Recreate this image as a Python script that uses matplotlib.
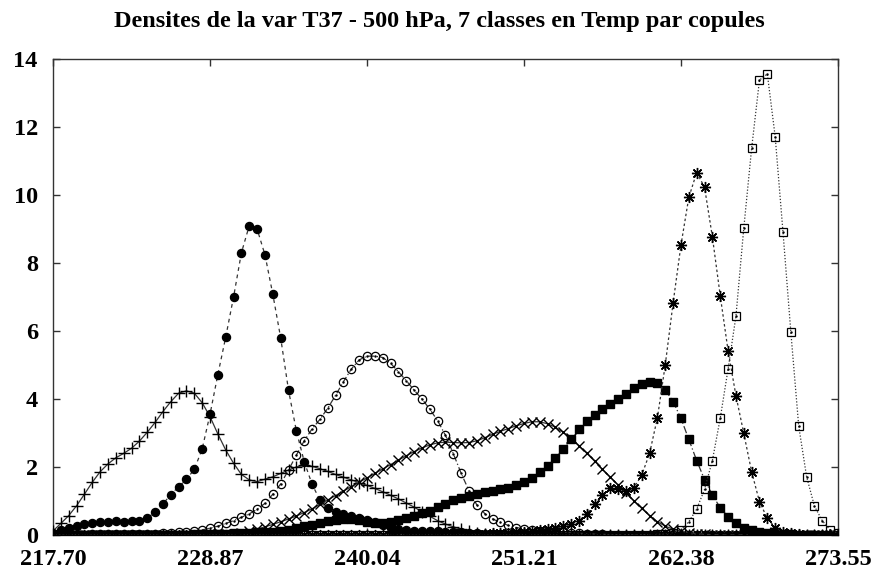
import numpy as np
import matplotlib
matplotlib.use("Agg")
import matplotlib.pyplot as plt

# temperature grid (101 points, tick every 20 points)
t_min, t_max = 217.70, 273.55
n_points = 101
tick_labels = ["217.70", "228.87", "240.04", "251.21", "262.38", "273.55"]

title = "Densites de la var T37 - 500 hPa, 7 classes en Temp par copules"

class1 = [0.12, 0.34, 0.57, 0.86, 1.20, 1.55, 1.86, 2.09, 2.27, 2.40,
          2.55, 2.76, 3.02, 3.31, 3.63, 3.92, 4.17, 4.24, 4.17, 3.89,
          3.48, 2.97, 2.50, 2.11, 1.78, 1.62, 1.57, 1.64, 1.71, 1.81,
          1.91, 2.00, 2.05, 2.02, 1.95, 1.87, 1.78, 1.70, 1.62, 1.54,
          1.46, 1.37, 1.27, 1.17, 1.06, 0.94, 0.82, 0.68, 0.55, 0.42,
          0.32, 0.24, 0.17, 0.11, 0.07, 0.04, 0.02, 0.01, 0, 0,
          0, 0, 0, 0, 0, 0, 0, 0, 0, 0,
          0, 0, 0, 0, 0, 0, 0, 0, 0, 0,
          0, 0, 0, 0, 0, 0, 0, 0, 0, 0,
          0, 0, 0, 0, 0, 0, 0, 0, 0, 0,
          0]

class2 = [0.07, 0.15, 0.22, 0.27, 0.31, 0.35, 0.37, 0.39, 0.40, 0.39,
          0.40, 0.42, 0.50, 0.67, 0.91, 1.19, 1.42, 1.64, 1.93, 2.53,
          3.55, 4.72, 5.82, 7.00, 8.30, 9.10, 9.00, 8.24, 7.08, 5.80,
          4.26, 3.06, 2.16, 1.49, 1.03, 0.80, 0.67, 0.62, 0.57, 0.50,
          0.45, 0.39, 0.29, 0.21, 0.18, 0.15, 0.13, 0.12, 0.12, 0.11,
          0.10, 0.09, 0.08, 0.07, 0.05, 0.04, 0.03, 0.02, 0.01, 0,
          0, 0, 0, 0, 0, 0, 0, 0, 0, 0,
          0, 0, 0, 0, 0, 0, 0, 0, 0, 0,
          0, 0, 0, 0, 0, 0, 0, 0, 0, 0,
          0, 0, 0, 0, 0, 0, 0, 0, 0, 0,
          0]

class3 = [0.01, 0.01, 0.01, 0.01, 0.01, 0.02, 0.02, 0.02, 0.02, 0.03,
          0.03, 0.03, 0.03, 0.04, 0.05, 0.06, 0.08, 0.10, 0.12, 0.15,
          0.20, 0.26, 0.34, 0.42, 0.52, 0.62, 0.76, 0.93, 1.20, 1.50,
          1.91, 2.35, 2.77, 3.12, 3.40, 3.73, 4.11, 4.51, 4.88, 5.15,
          5.26, 5.26, 5.22, 5.05, 4.80, 4.54, 4.26, 4.00, 3.70, 3.36,
          2.93, 2.39, 1.81, 1.30, 0.88, 0.63, 0.47, 0.37, 0.28, 0.22,
          0.18, 0.14, 0.12, 0.11, 0.10, 0.08, 0.07, 0.05, 0.04, 0.03,
          0.02, 0.01, 0, 0, 0, 0, 0, 0, 0, 0,
          0, 0, 0, 0, 0, 0, 0, 0, 0, 0,
          0, 0, 0, 0, 0, 0, 0, 0, 0, 0,
          0]

class4 = [0, 0, 0, 0, 0, 0, 0, 0, 0, 0,
          0, 0, 0, 0, 0, 0, 0.01, 0.01, 0.01, 0.01,
          0.01, 0.02, 0.02, 0.04, 0.07, 0.11, 0.17, 0.24, 0.31, 0.39,
          0.47, 0.56, 0.66, 0.77, 0.90, 1.03, 1.16, 1.29, 1.42, 1.55,
          1.68, 1.81, 1.94, 2.07, 2.20, 2.33, 2.45, 2.56, 2.65, 2.71,
          2.73, 2.72, 2.71, 2.72, 2.77, 2.86, 2.96, 3.05, 3.13, 3.21,
          3.28, 3.33, 3.33, 3.27, 3.17, 3.02, 2.84, 2.63, 2.40, 2.17,
          1.93, 1.70, 1.47, 1.24, 1.01, 0.78, 0.57, 0.39, 0.26, 0.17,
          0.11, 0.07, 0.04, 0.02, 0.01, 0, 0, 0, 0, 0,
          0, 0, 0, 0, 0, 0, 0, 0, 0, 0,
          0]

class5 = [0.01, 0.01, 0.01, 0.01, 0.01, 0.01, 0.01, 0.01, 0.01, 0.01,
          0.01, 0.01, 0.01, 0.01, 0.01, 0.01, 0.01, 0.01, 0.02, 0.02,
          0.03, 0.03, 0.04, 0.05, 0.06, 0.07, 0.08, 0.09, 0.10, 0.12,
          0.16, 0.20, 0.25, 0.30, 0.36, 0.41, 0.45, 0.47, 0.46, 0.43,
          0.39, 0.36, 0.35, 0.38, 0.43, 0.49, 0.56, 0.64, 0.72, 0.82,
          0.92, 1.02, 1.10, 1.16, 1.21, 1.25, 1.29, 1.34, 1.39, 1.46,
          1.56, 1.68, 1.84, 2.03, 2.26, 2.53, 2.82, 3.11, 3.34, 3.54,
          3.71, 3.86, 4.01, 4.15, 4.31, 4.44, 4.51, 4.48, 4.27, 3.92,
          3.43, 2.81, 2.19, 1.63, 1.18, 0.80, 0.54, 0.35, 0.22, 0.15,
          0.10, 0.07, 0.05, 0.03, 0.02, 0.01, 0.01, 0.01, 0.01, 0.01,
          0.01]

class6 = [0, 0, 0, 0, 0, 0, 0, 0, 0, 0,
          0, 0, 0, 0, 0, 0, 0, 0, 0, 0,
          0, 0, 0, 0, 0, 0, 0, 0, 0, 0,
          0, 0, 0, 0, 0, 0, 0, 0, 0, 0,
          0, 0, 0, 0, 0, 0.01, 0.01, 0.01, 0.01, 0.02,
          0.02, 0.02, 0.03, 0.03, 0.04, 0.04, 0.05, 0.06, 0.07, 0.08,
          0.10, 0.12, 0.15, 0.18, 0.21, 0.25, 0.32, 0.42, 0.63, 0.90,
          1.19, 1.37, 1.35, 1.30, 1.39, 1.76, 2.40, 3.45, 5.01, 6.83,
          8.53, 9.93, 10.66, 10.23, 8.77, 7.04, 5.42, 4.10, 2.99, 1.86,
          0.98, 0.49, 0.22, 0.10, 0.05, 0.02, 0.01, 0, 0, 0,
          0]

class7 = [0, 0, 0, 0, 0, 0, 0, 0, 0, 0,
          0, 0, 0, 0, 0, 0, 0, 0, 0, 0,
          0, 0, 0, 0, 0, 0, 0, 0, 0, 0,
          0, 0, 0, 0, 0, 0, 0, 0, 0, 0,
          0, 0, 0, 0, 0, 0, 0, 0, 0, 0,
          0, 0, 0, 0, 0, 0, 0, 0, 0, 0,
          0, 0, 0, 0, 0, 0, 0, 0, 0, 0,
          0, 0, 0, 0.01, 0.01, 0.01, 0.01, 0.02, 0.03, 0.06,
          0.15, 0.39, 0.76, 1.34, 2.19, 3.43, 4.88, 6.43, 9.02, 11.37,
          13.38, 13.56, 11.72, 8.90, 5.96, 3.20, 1.72, 0.85, 0.42, 0.15,
          0.05]

t = np.linspace(t_min, t_max, n_points)
ticks = [float(s) for s in tick_labels]

plt.rcParams['font.family'] = ['Liberation Serif', 'DejaVu Serif']
plt.rcParams['font.weight'] = 'bold'

fig = plt.figure(figsize=(8.78, 5.75), dpi=100)
ax = fig.add_axes([0.0604, 0.0696, 0.894, 0.8278])

line_col = '#333333'
lw = 0.9

# class 1: plus, solid
ax.plot(t, class1, color=line_col, lw=lw, ls='-', marker='+', ms=8,
        mec='black', mew=1.0, zorder=3)
# class 2: filled circles, dashed
ax.plot(t, class2, color=line_col, lw=lw, ls=(0, (3, 3)), marker='o', ms=5.8,
        mfc='black', mec='black', zorder=3)
# class 3: open circles with a dot, dash-dot
ax.plot(t, class3, color=line_col, lw=lw, ls=(0, (5, 2, 1, 2)), marker='o', ms=6,
        mfc='none', mec='black', mew=0.9, zorder=3)
ax.plot(t, class3, ls='none', marker='.', ms=1.5, color='black', zorder=3)
# class 4: crosses, solid
ax.plot(t, class4, color=line_col, lw=lw, ls='-', marker='x', ms=7,
        mec='black', mew=1.0, zorder=3)
# class 5: filled squares, dash-dot
ax.plot(t, class5, color=line_col, lw=lw, ls=(0, (6, 2, 1, 2)), marker='s', ms=5.8,
        mfc='black', mec='black', zorder=3)
# class 6: asterisks, dashed
ax.plot(t, class6, color=line_col, lw=lw, ls=(0, (2, 2)), marker=(8, 2, 0), ms=8,
        mec='black', mew=1.0, zorder=3)
# class 7: open squares with a dot, dotted
ax.plot(t, class7, color=line_col, lw=lw, ls=(0, (1, 1.5)), marker='s', ms=6,
        mfc='none', mec='black', mew=0.9, zorder=3)
ax.plot(t, class7, ls='none', marker='.', ms=1.5, color='black', zorder=3)

ax.set_xlim(t_min, t_max)
ax.set_ylim(0, 14)
ax.set_xticks(ticks)
ax.set_xticklabels(tick_labels)
ax.set_yticks(range(0, 15, 2))
ax.tick_params(direction='in', length=5, width=1, top=True, right=True,
               labelsize=17.5, colors='#333333', labelcolor='black')
ax.tick_params(axis='x', pad=10)
ax.tick_params(axis='y', pad=11)
for s in ax.spines.values():
    s.set_color('#333333')
    s.set_linewidth(1)

fig.text(0.5, 0.962, title, ha='center', va='center', fontsize=17.5, fontweight='bold')

fig.savefig('out.png', dpi=100)
